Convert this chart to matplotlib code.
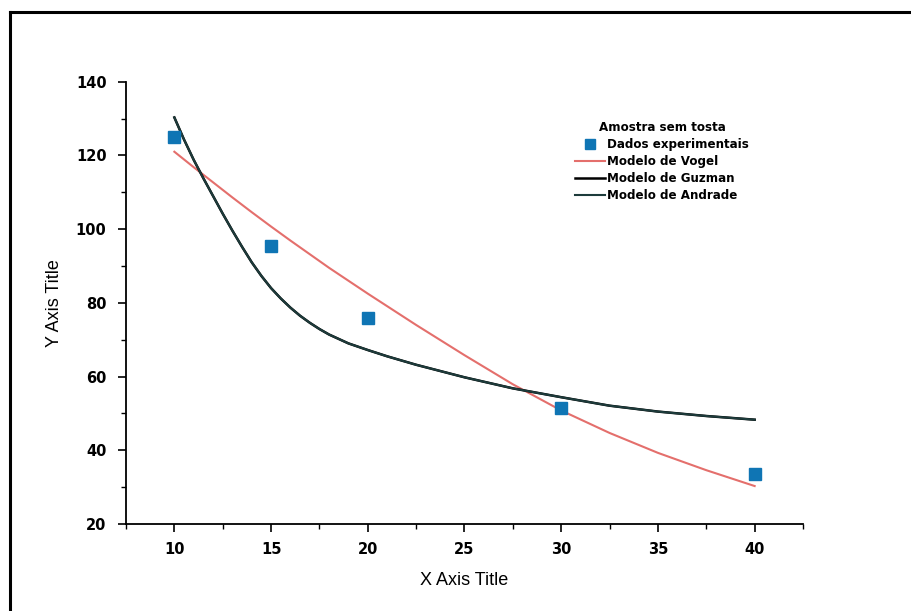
import matplotlib
matplotlib.use("Agg")
import matplotlib.pyplot as plt
from matplotlib.lines import Line2D
from matplotlib.ticker import MultipleLocator

plt.rcParams['font.family'] = ['Liberation Sans', 'DejaVu Sans']

# Experimental data
temp_exp = [10, 15, 20, 30, 40]
visc_exp = [125.0, 95.3, 75.8, 51.4, 33.5]

# Fitted model curves
temp_vogel = [10, 11, 12, 13, 14, 15, 16, 17, 18, 19, 20, 22.5, 25, 27.5, 30, 32.5, 35, 37.5, 40]
visc_vogel = [121.0, 116.8, 112.7, 108.6, 104.6, 100.7, 96.9, 93.2, 89.5, 86.0, 82.5,
              74.0, 65.8, 57.9, 50.8, 44.7, 39.3, 34.6, 30.3]

temp_fit = [10, 10.5, 11, 11.5, 12, 12.5, 13, 13.5, 14, 14.5, 15, 15.5, 16, 16.5, 17, 17.5,
            18, 19, 20, 21, 22.5, 25, 27.5, 30, 32.5, 35, 37.5, 40]
visc_guzman = [130.3, 124.3, 118.8, 113.8, 109.0, 104.2, 99.6, 95.2, 91.0, 87.3, 84.0, 81.2,
               78.7, 76.5, 74.6, 72.9, 71.4, 69.0, 67.2, 65.5, 63.2, 59.8, 56.8, 54.4, 52.1,
               50.5, 49.3, 48.3]
visc_andrade = [130.3, 124.3, 118.8, 113.8, 109.0, 104.2, 99.6, 95.2, 91.0, 87.3, 84.0, 81.2,
                78.7, 76.5, 74.6, 72.9, 71.4, 69.0, 67.2, 65.5, 63.2, 59.8, 56.8, 54.4, 52.1,
                50.5, 49.3, 48.3]

W, H = 912, 611
fig = plt.figure(figsize=(W / 100, H / 100), dpi=100)
fig.patch.set_facecolor('white')

# outer frame (top and left edges)
fig.add_artist(Line2D([10 / W, 10 / W], [0, 1 - 12 / H], color='black', lw=2.2,
                      transform=fig.transFigure))
fig.add_artist(Line2D([10 / W, 1], [1 - 12 / H, 1 - 12 / H], color='black', lw=2.2,
                      transform=fig.transFigure))

ax = fig.add_axes([126 / W, 1 - 524 / H, (803 - 126) / W, (524 - 81.7) / H])

ax.plot(temp_vogel, visc_vogel, color='#e46f6c', lw=1.5, label='Modelo de Vogel', zorder=2)
ax.plot(temp_fit, visc_guzman, color='black', lw=1.8, label='Modelo de Guzman', zorder=3)
ax.plot(temp_fit, visc_andrade, color='#1d3b3b', lw=1.5, label='Modelo de Andrade', zorder=4)
ax.plot(temp_exp, visc_exp, ls='none', marker='s', ms=8.5, color='#0f75b4',
        mec='#0f75b4', label='Dados experimentais', zorder=5)

ax.set_xlim(7.5, 42.5)
ax.set_ylim(20, 140)
ax.xaxis.set_major_locator(MultipleLocator(5))
ax.xaxis.set_minor_locator(MultipleLocator(2.5))
ax.yaxis.set_major_locator(MultipleLocator(20))
ax.yaxis.set_minor_locator(MultipleLocator(10))

for s in ['top', 'right']:
    ax.spines[s].set_visible(False)
for s in ['left', 'bottom']:
    ax.spines[s].set_linewidth(1.3)

ax.tick_params(which='major', direction='out', length=6, width=1.2, labelsize=10.5)
ax.tick_params(axis='x', which='major', pad=7)
ax.tick_params(axis='y', which='major', pad=8)
ax.tick_params(which='minor', direction='out', length=3.5, width=1.0)
ax.set_xticks([10, 15, 20, 25, 30, 35, 40])
for lab in ax.get_xticklabels() + ax.get_yticklabels():
    lab.set_fontweight('bold')
    lab.set_family('DejaVu Sans')

ax.set_xlabel('X Axis Title', fontsize=13, labelpad=11)
ax.set_ylabel('Y Axis Title', fontsize=13, labelpad=9)

handles, labels = ax.get_legend_handles_labels()
order = [3, 0, 1, 2]
leg = ax.legend([handles[i] for i in order], [labels[i] for i in order],
                title='Amostra sem tosta', loc='upper left',
                bbox_to_anchor=(567 / W, 1 - 113 / H), bbox_transform=fig.transFigure,
                frameon=False, handlelength=2.5, markerscale=0.85,
                handletextpad=0.15, labelspacing=0.33, borderpad=0.2,
                prop={'weight': 'bold', 'size': 8.6, 'family': 'DejaVu Sans'},
                title_fontproperties={'weight': 'bold', 'size': 8.6, 'family': 'DejaVu Sans'})

fig.savefig('out.png', dpi=100)
